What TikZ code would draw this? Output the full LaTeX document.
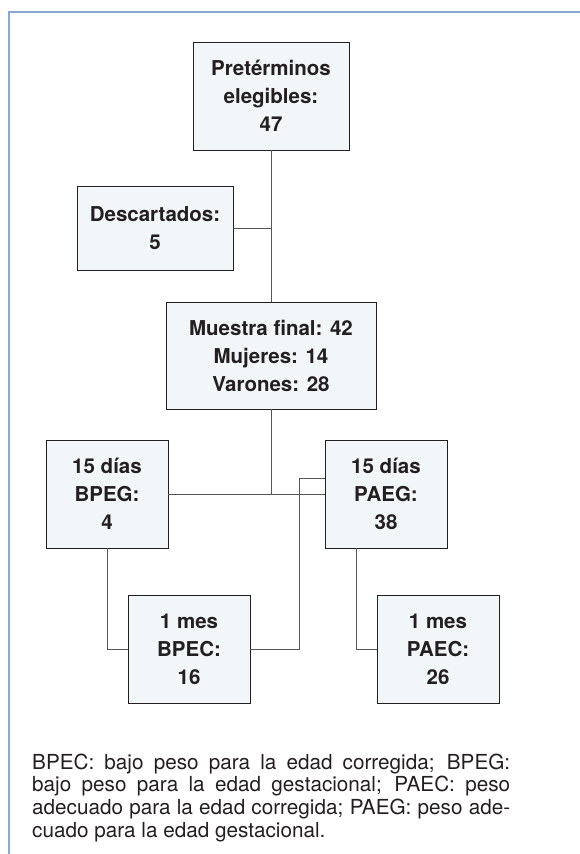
\documentclass[tikz,border=0pt]{standalone}
\usepackage{fontspec}
\setmainfont{TeX Gyre Heros}
\usepackage{tikz}
\definecolor{boxfill}{HTML}{F3F6F9}
\definecolor{ink}{HTML}{231F20}
\definecolor{wire}{HTML}{555555}
\definecolor{frame}{HTML}{8AAAD6}

\begin{document}
\begin{tikzpicture}[x=1pt,y=-1pt,
	caja/.style={draw=ink,fill=boxfill,line width=0.9pt,align=center,inner sep=0pt,
		text=ink,font=\fontsize{20.5}{28}\selectfont\bfseries},
	linea/.style={draw=wire,line width=0.9pt}]
	\useasboundingbox (0,0) rectangle (580,854);
	\draw[frame,line width=1.3pt] (9,854) -- (9,12) -- (580,12);

	\node[caja,minimum width=156pt,minimum height=108pt] (pret) at (271,96)
		{Pretérminos\\elegibles:\\47};
	\node[caja,minimum width=156pt,minimum height=84pt] (desc) at (155,228)
		{Descartados:\\5};
	\node[caja,minimum width=210pt,minimum height=107pt] (muestra) at (271,355.5)
		{Muestra final: 42\\Mujeres: 14\\Varones: 28};
	\node[caja,minimum width=122pt,minimum height=108pt] (bpeg) at (107,494)
		{15 días\\BPEG:\\4};
	\node[caja,minimum width=122pt,minimum height=108pt] (paeg) at (386,494)
		{15 días\\PAEG:\\38};
	\node[caja,minimum width=122pt,minimum height=108pt] (bpec) at (189,649)
		{1 mes\\BPEC:\\16};
	\node[caja,minimum width=122pt,minimum height=108pt] (paec) at (438,649)
		{1 mes\\PAEC:\\26};

	\coordinate (paegin) at ([yshift=16pt]paeg.west);
	\coordinate (paegout) at ([xshift=-30pt]paeg.south);
	\coordinate (codo) at (299,649);

	\draw[linea] (pret.south) -- (muestra.north);
	\draw[linea] (desc.east) -- (pret.south |- desc.east);
	\draw[linea] (muestra.south) -- (muestra.south |- bpeg.east);
	\draw[linea] (bpeg.east) -- (paeg.west);
	\draw[linea] (bpeg.south) |- (bpec.west);
	\draw[linea] (bpec.east) -- (codo) |- (paegin);
	\draw[linea] (paegout) |- (paec.west);

	\node[anchor=base west,text width=478pt,inner sep=0pt,text=ink,align=justify,
		font=\fontsize{20.7}{22.8}\selectfont] (nota) at (32,769)
		{BPEC: bajo peso para la edad corregida; BPEG:\linebreak
		bajo peso para la edad gestacional; PAEC: peso\linebreak
		adecuado para la edad corregida; PAEG: peso ade-\linebreak
		cuado para la edad gestacional.};
\end{tikzpicture}
\end{document}
